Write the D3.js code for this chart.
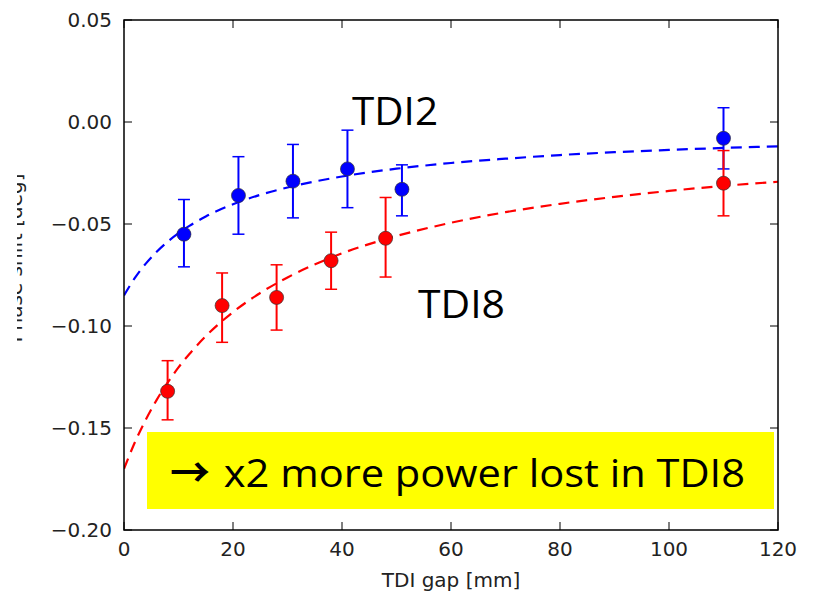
<!DOCTYPE html>
<html><head><meta charset="utf-8">
<script src="https://cdn.jsdelivr.net/npm/d3@7/dist/d3.min.js"></script>
<style>body{margin:0;background:#fff}svg{display:block}</style>
</head><body>
<svg id="c" width="813" height="599"></svg>
<script>
// ---- data ----
const xTicks = [0, 20, 40, 60, 80, 100, 120];
const yTicks = [0.05, 0.00, -0.05, -0.10, -0.15, -0.20];

const tdi2X    = [11, 21, 31, 41, 51, 110];
const tdi2Y    = [-0.055, -0.036, -0.029, -0.023, -0.033, -0.008];
const tdi2Lo   = [-0.071, -0.055, -0.047, -0.042, -0.046, -0.023];
const tdi2Hi   = [-0.038, -0.017, -0.011, -0.004, -0.021, 0.007];

const tdi8X    = [8, 18, 28, 38, 48, 110];
const tdi8Y    = [-0.132, -0.090, -0.086, -0.068, -0.057, -0.030];
const tdi8Lo   = [-0.146, -0.108, -0.102, -0.082, -0.076, -0.046];
const tdi8Hi   = [-0.117, -0.074, -0.070, -0.054, -0.037, -0.014];

// dashed fit curves
const fitX     = [0, 2, 4, 6, 8, 10, 12, 15, 20, 25, 30, 40, 50, 60, 70, 80, 90, 100, 110, 120];
const fit2Y    = [-0.0850, -0.0764, -0.0694, -0.0636, -0.0587, -0.0545, -0.0509, -0.0463, -0.0403, -0.0357,
                  -0.0321, -0.0267, -0.0229, -0.0201, -0.0180, -0.0162, -0.0148, -0.0137, -0.0127, -0.0119];
const fit8Y    = [-0.1700, -0.1570, -0.1459, -0.1362, -0.1278, -0.1203, -0.1137, -0.1050, -0.0932, -0.0838,
                  -0.0762, -0.0644, -0.0559, -0.0494, -0.0442, -0.0401, -0.0367, -0.0338, -0.0313, -0.0293];

const labels = {tdi2: "TDI2", tdi8: "TDI8", xTitle: "TDI gap [mm]", yTitle: "Phase shift [deg]",
                arrow: "\u2192", note: " x2 more power lost in TDI8"};

// ---- layout ----
const svg = d3.select("#c");
const L = 124, R = 778, T = 20, B = 530;
const x = d3.scaleLinear().domain([0, 120]).range([L, R]);
const y = d3.scaleLinear().domain([-0.20, 0.05]).range([B, T]);
const tickFont = "DejaVu Sans";
const fmt = v => (v < 0 ? "\u2212" : "") + Math.abs(v).toFixed(2);

// y title (partially hidden in original)
svg.append("text")
  .attr("transform", `translate(22,${(T + B) / 2 - 17}) rotate(-90)`)
  .attr("text-anchor", "middle")
  .attr("font-family", tickFont).attr("font-size", 20)
  .attr("fill", "#222")
  .text(labels.yTitle);
svg.append("rect").attr("x", 0).attr("y", 0).attr("width", 17).attr("height", 599).attr("fill", "#fff");

// fit curves
const line = d3.line().x(d => x(d[0])).y(d => y(d[1])).curve(d3.curveMonotoneX);
const fits = [{ys: fit2Y, color: "#0000ff"}, {ys: fit8Y, color: "#ff0000"}];
svg.append("clipPath").attr("id", "pa").append("rect")
  .attr("x", L).attr("y", T).attr("width", R - L).attr("height", B - T);
fits.forEach(f => {
  svg.append("path")
    .attr("clip-path", "url(#pa)")
    .attr("d", line(fitX.map((v, i) => [v, f.ys[i]])))
    .attr("fill", "none").attr("stroke", f.color).attr("stroke-width", 2.2)
    .attr("stroke-dasharray", "11,7");
});

// error bars + points
const series = [
  {xs: tdi2X, ys: tdi2Y, lo: tdi2Lo, hi: tdi2Hi, color: "#0000ff"},
  {xs: tdi8X, ys: tdi8Y, lo: tdi8Lo, hi: tdi8Hi, color: "#ff0000"}
];
series.forEach(s => {
  const g = svg.append("g");
  s.xs.forEach((xv, i) => {
    const cx = x(xv);
    g.append("line").attr("x1", cx).attr("x2", cx).attr("y1", y(s.lo[i])).attr("y2", y(s.hi[i]))
      .attr("stroke", s.color).attr("stroke-width", 2);
    [s.lo[i], s.hi[i]].forEach(v => {
      g.append("line").attr("x1", cx - 6).attr("x2", cx + 6).attr("y1", y(v)).attr("y2", y(v))
        .attr("stroke", s.color).attr("stroke-width", 1.5);
    });
  });
  s.xs.forEach((xv, i) => {
    g.append("circle").attr("cx", x(xv)).attr("cy", y(s.ys[i])).attr("r", 7)
      .attr("fill", s.color).attr("stroke", "#333").attr("stroke-opacity", 0.7).attr("stroke-width", 1);
  });
});

// axes frame
svg.append("rect").attr("x", L).attr("y", T).attr("width", R - L).attr("height", B - T)
  .attr("fill", "none").attr("stroke", "#000").attr("stroke-width", 1.5);

// ticks (inward, all sides)
const tk = 8;
xTicks.forEach(v => {
  svg.append("line").attr("x1", x(v)).attr("x2", x(v)).attr("y1", B).attr("y2", B - tk).attr("stroke", "#000");
  svg.append("line").attr("x1", x(v)).attr("x2", x(v)).attr("y1", T).attr("y2", T + tk).attr("stroke", "#000");
  svg.append("text").attr("x", x(v)).attr("y", B + 26).attr("text-anchor", "middle")
    .attr("font-family", tickFont).attr("font-size", 20).attr("fill", "#222").text(v);
});
yTicks.forEach(v => {
  svg.append("line").attr("x1", L).attr("x2", L + tk).attr("y1", y(v)).attr("y2", y(v)).attr("stroke", "#000");
  svg.append("line").attr("x1", R).attr("x2", R - tk).attr("y1", y(v)).attr("y2", y(v)).attr("stroke", "#000");
  svg.append("text").attr("x", L - 12).attr("y", y(v)).attr("dy", "0.36em").attr("text-anchor", "end")
    .attr("font-family", tickFont).attr("font-size", 20).attr("fill", "#222").text(fmt(v));
});

// x title
svg.append("text").attr("x", (L + R) / 2).attr("y", 587).attr("text-anchor", "middle")
  .attr("font-family", tickFont).attr("font-size", 20).attr("fill", "#222").text(labels.xTitle);

// annotations
svg.append("text").attr("x", 352).attr("y", 125).attr("font-family", "Open Sans")
  .attr("font-size", 38).attr("fill", "#000")
  .attr("textLength", 86).attr("lengthAdjust", "spacingAndGlyphs").text(labels.tdi2);
svg.append("text").attr("x", 418).attr("y", 318).attr("font-family", "Open Sans")
  .attr("font-size", 38).attr("fill", "#000")
  .attr("textLength", 87).attr("lengthAdjust", "spacingAndGlyphs").text(labels.tdi8);

svg.append("rect").attr("x", 147).attr("y", 432).attr("width", 627).attr("height", 77).attr("fill", "#ffff00");
const note = svg.append("text").attr("y", 487).attr("font-family", "Open Sans").attr("fill", "#000");
note.append("tspan").attr("x", 170).attr("font-family", "Noto Sans CJK SC").attr("font-weight", "bold")
  .attr("font-size", 40).attr("dy", 0)
  .attr("textLength", 40).attr("lengthAdjust", "spacingAndGlyphs").text(labels.arrow);
note.append("tspan").attr("x", 213).attr("dy", 0).attr("font-size", 38)
  .attr("textLength", 532).attr("lengthAdjust", "spacingAndGlyphs").text(labels.note);
</script>
</body></html>
